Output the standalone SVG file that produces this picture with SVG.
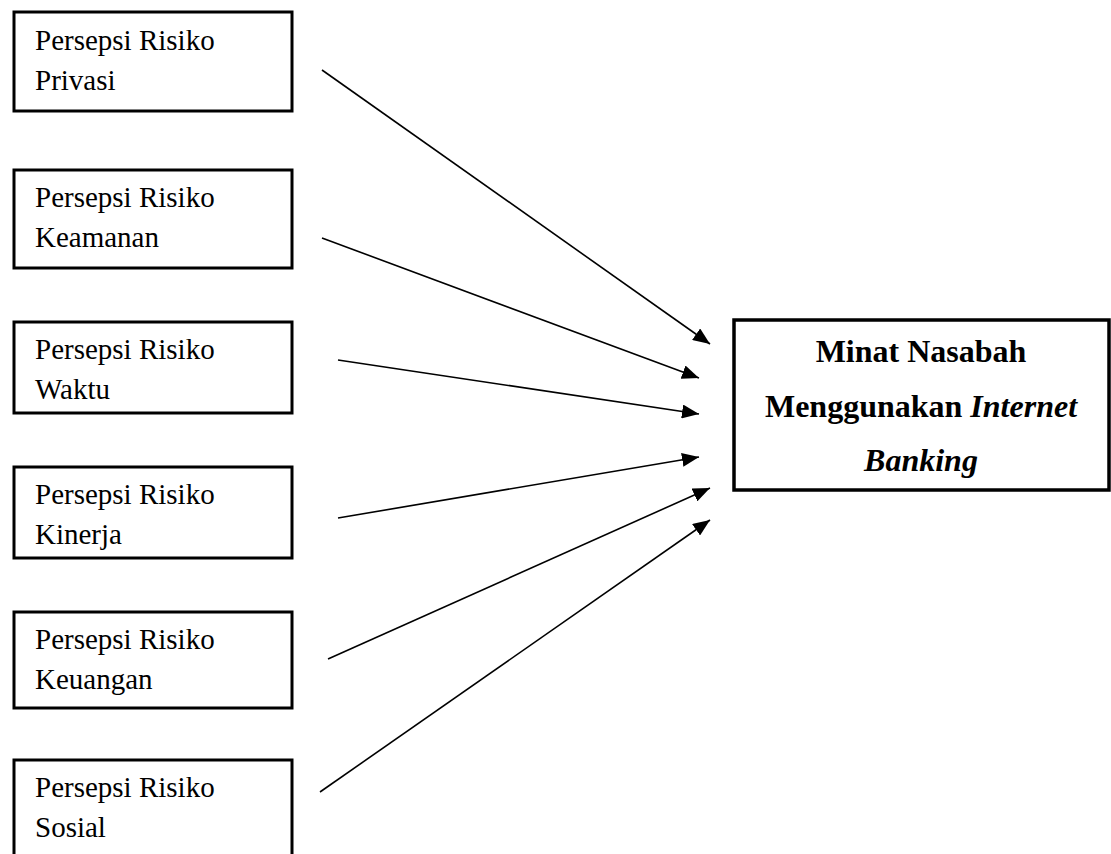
<svg xmlns="http://www.w3.org/2000/svg" width="1111" height="854" viewBox="0 0 1111 854">
<style>
.box{fill:#fff;stroke:#000;stroke-width:3}
.t{font-family:"Liberation Serif","Times New Roman",serif;font-size:29px;fill:#000}
.b{font-family:"Liberation Serif","Times New Roman",serif;font-size:32px;font-weight:bold;fill:#000;text-anchor:middle}
.c{stroke:#000;stroke-width:1.6;fill:none;marker-end:url(#ah)}
</style>
<defs>
<marker id="ah" markerUnits="userSpaceOnUse" markerWidth="17" markerHeight="14" refX="17" refY="7" orient="auto">
<path d="M0,0 L17,7 L0,14 z" fill="#000"/>
</marker>
</defs>
<rect width="1111" height="854" fill="#fff"/>
<g id="n1"><rect class="box" x="14" y="12" width="278" height="99"/><text class="t" x="35" y="50">Persepsi Risiko</text><text class="t" x="35" y="90">Privasi</text></g>
<g id="n2"><rect class="box" x="14" y="170" width="278" height="98"/><text class="t" x="35" y="207">Persepsi Risiko</text><text class="t" x="35" y="247">Keamanan</text></g>
<g id="n3"><rect class="box" x="14" y="322" width="278" height="91"/><text class="t" x="35" y="359">Persepsi Risiko</text><text class="t" x="35" y="399">Waktu</text></g>
<g id="n4"><rect class="box" x="14" y="467" width="278" height="91"/><text class="t" x="35" y="504">Persepsi Risiko</text><text class="t" x="35" y="544">Kinerja</text></g>
<g id="n5"><rect class="box" x="14" y="612" width="278" height="96"/><text class="t" x="35" y="649">Persepsi Risiko</text><text class="t" x="35" y="689">Keuangan</text></g>
<g id="n6"><rect class="box" x="14" y="760" width="278" height="110"/><text class="t" x="35" y="797">Persepsi Risiko</text><text class="t" x="35" y="837">Sosial</text></g>
<g id="target"><rect class="box" x="734" y="320" width="375" height="170" style="stroke-width:3.5"/>
<text class="b" x="921" y="362">Minat Nasabah</text>
<text class="b" x="921" y="417">Menggunakan <tspan font-style="italic">Internet</tspan></text>
<text class="b" x="921" y="471" font-style="italic">Banking</text></g>
<g id="connectors">
<line class="c" x1="322" y1="70" x2="710" y2="344"/>
<line class="c" x1="322" y1="238" x2="699" y2="378"/>
<line class="c" x1="338" y1="360" x2="699" y2="414"/>
<line class="c" x1="338" y1="518" x2="699" y2="457"/>
<line class="c" x1="328" y1="659" x2="710" y2="488"/>
<line class="c" x1="320" y1="792" x2="710" y2="520"/>
</g>
</svg>
